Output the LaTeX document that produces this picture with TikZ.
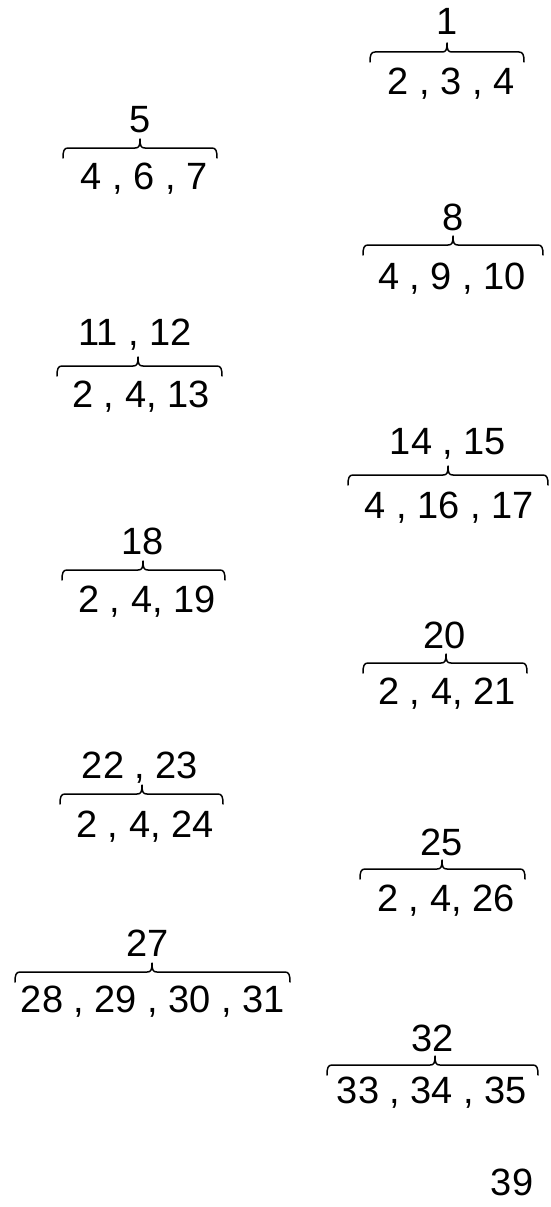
\documentclass[tikz,border=0pt]{standalone}
\usepackage{fontspec}
\setmainfont{Liberation Sans}
\newcommand\mybrace[4]{\draw[brc] ({#1},{#4+10}) .. controls ({#1},{#4+3}) and ({#1+1},{#4}) .. ({#1+5},{#4}) -- ({#2-5},{#4}) .. controls ({#2-1},{#4}) and ({#2},{#4-2}) .. ({#2},{#4-9}) .. controls ({#2},{#4-2}) and ({#2+1},{#4}) .. ({#2+5},{#4}) -- ({#3-5},{#4}) .. controls ({#3-1},{#4}) and ({#3},{#4+3}) .. ({#3},{#4+10});}
\tikzset{
  lbl/.style={anchor=base,inner sep=0pt,font=\fontsize{38}{44}\selectfont},
  brc/.style={line width=1.5pt,line join=round,line cap=round}
}
\begin{document}
\begin{tikzpicture}[x=1pt,y=-1pt]
\useasboundingbox (0,0) rectangle (551,1207);
% 1
\node[lbl] (l1) at (447,35) {1};
\mybrace{370}{447}{524}{52}
\node[lbl] (t1) at (451,94) {2 , 3 , 4};
% 5
\node[lbl] (l5) at (140,132) {5};
\mybrace{63}{140}{217}{148}
\node[lbl] (t5) at (144,189) {4 , 6 , 7};
% 8
\node[lbl] (l8) at (453,230) {8};
\mybrace{363}{453}{543}{245}
\node[lbl] (t8) at (452,289) {4 , 9 , 10};
% 11,12
\node[lbl] (l11) at (135,345) {11 , 12};
\mybrace{57}{138}{222}{366}
\node[lbl] (t11) at (141,407) {2 , 4, 13};
% 14,15
\node[lbl] (l14) at (448,454) {14 , 15};
\mybrace{348}{448}{548}{475}
\node[lbl] (t14) at (449,518) {4 , 16 , 17};
% 18
\node[lbl] (l18) at (143,554) {18};
\mybrace{62}{143}{225}{570}
\node[lbl] (t18) at (147,612) {2 , 4, 19};
% 20
\node[lbl] (l20) at (445,648) {20};
\mybrace{363}{446}{527}{663}
\node[lbl] (t20) at (447,704) {2 , 4, 21};
% 22,23
\node[lbl] (l22) at (140,778) {22 , 23};
\mybrace{60}{142}{223}{794}
\node[lbl] (t22) at (145,837) {2 , 4, 24};
% 25
\node[lbl] (l25) at (442,855) {25};
\mybrace{360}{442}{525}{869}
\node[lbl] (t25) at (446,911) {2 , 4, 26};
% 27
\node[lbl] (l27) at (148,956) {27};
\mybrace{15}{152}{290}{972}
\node[lbl] (t27) at (153,1012) {28 , 29 , 30 , 31};
% 32
\node[lbl] (l32) at (433,1051) {32};
\mybrace{327}{435}{538}{1065}
\node[lbl] (t32) at (432,1103) {33 , 34 , 35};
% 39
\node[lbl] (l39) at (512,1195) {39};
\end{tikzpicture}
\end{document}
